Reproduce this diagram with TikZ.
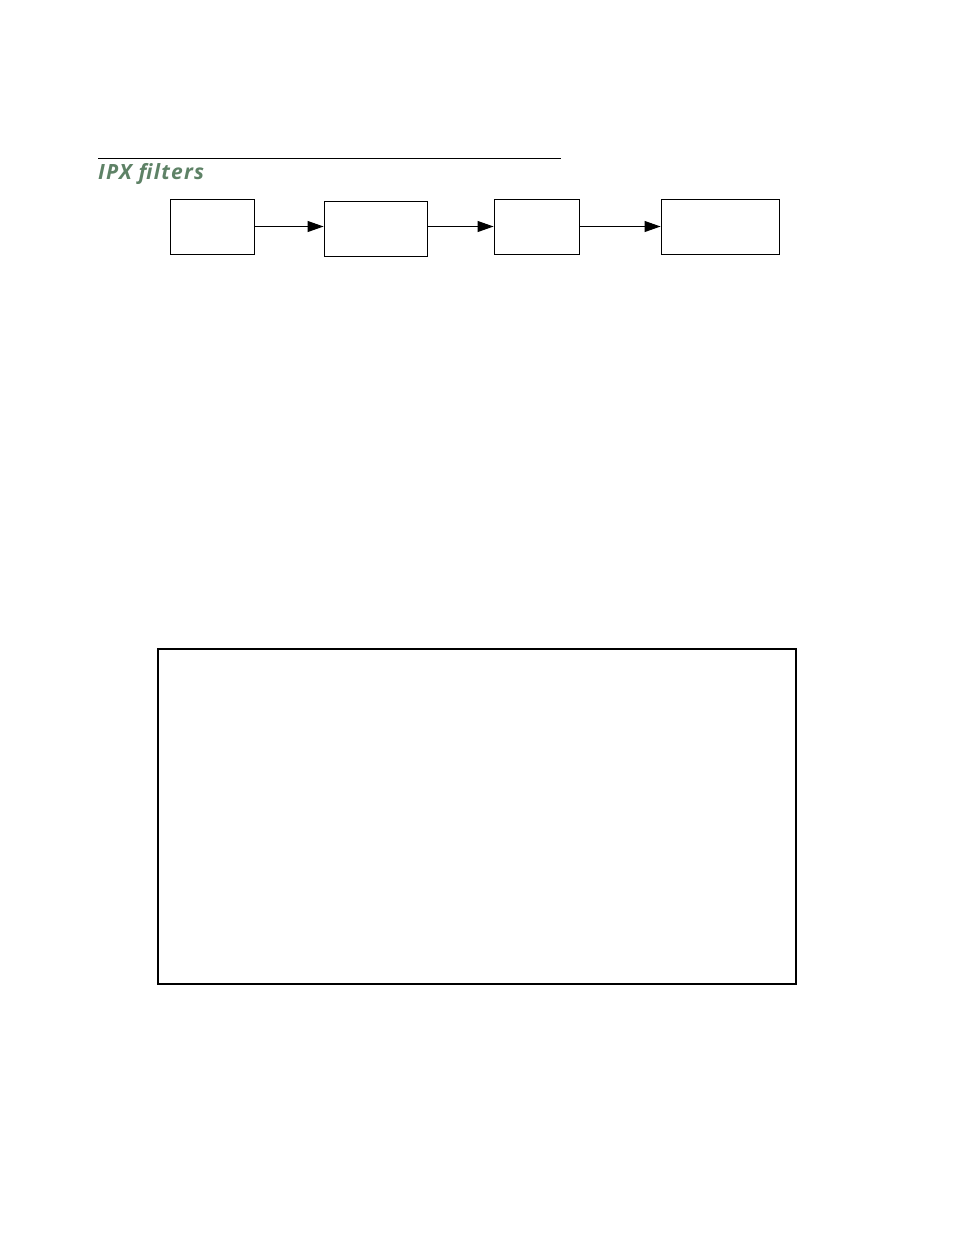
\documentclass[tikz,border=0pt]{standalone}
\usepackage{fontspec}
\setmainfont{Open Sans}
\newfontfamily\headfont[LetterSpace=6]{Open Sans}
\usepackage{tikz}
\usetikzlibrary{positioning,arrows.meta}
\definecolor{titlegreen}{HTML}{5E8266}

\begin{document}
\begin{tikzpicture}[
  x=1pt, y=-1pt,
  filterbox/.style={
    shape=rectangle,
    draw=black,
    line width=0.9pt,
    fill=white,
    inner sep=0pt,
    minimum height=55pt,
  },
  flow/.style={
    line width=0.9pt,
    -{Triangle[length=16pt,width=11pt]},
  }]
  \useasboundingbox (0,0) rectangle (954,1235);
  % heading
  \coordinate (ruleL) at (98,158);
  \coordinate (ruleR) at (561,158);
  \draw[line width=0.9pt] (ruleL) -- (ruleR);
  \node[anchor=base west, inner sep=0pt, text=titlegreen,
    font=\headfont\fontsize{21}{25}\selectfont\bfseries\itshape] (title) at (98,179)
    {IPX filters};
  % filter chain
  \node[filterbox, minimum width=84pt] (f1) at (212,226.5) {};
  \node[filterbox, minimum width=103pt] (f2) at (375.5,228.5) {};
  \node[filterbox, minimum width=85pt] (f3) at (536.5,226.5) {};
  \node[filterbox, minimum width=118pt] (f4) at (720,226.5) {};
  \draw[flow] (f1.east) -- (f1.east -| f2.west);
  \draw[flow] (f2.east |- f3.west) -- (f3.west);
  \draw[flow] (f3.east) -- (f4.west);
  % panel
  \node[draw=black, line width=2pt, inner sep=0pt,
    minimum width=638pt, minimum height=335pt] (panel) at (477,816.5) {};
\end{tikzpicture}
\end{document}
